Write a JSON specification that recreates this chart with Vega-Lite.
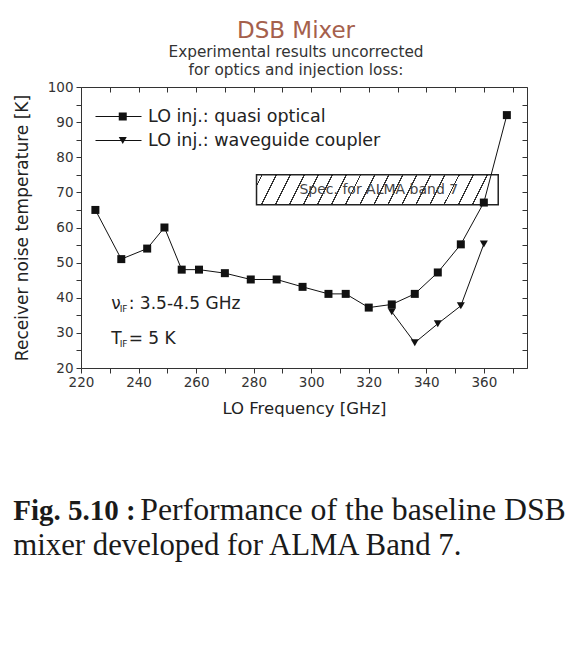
{
  "$schema": "https://vega.github.io/schema/vega-lite/v6.json",
  "background": "white",
  "padding": {"left": 13, "top": 19, "right": 0, "bottom": 10},
  "config": {
    "view": {"stroke": null},
    "font": "DejaVu Sans",
    "axis": {"grid": false, "labelFont": "DejaVu Sans", "titleFont": "DejaVu Sans", "domainColor": "#333", "tickColor": "#333", "labelColor": "#333", "titleColor": "#222", "titleFontWeight": "normal"}
  },
  "datasets": {
    "meas": [
      {"f": 225, "T": 65, "series": "LO inj.: quasi optical"},
      {"f": 234, "T": 51, "series": "LO inj.: quasi optical"},
      {"f": 243, "T": 54, "series": "LO inj.: quasi optical"},
      {"f": 249, "T": 60, "series": "LO inj.: quasi optical"},
      {"f": 255, "T": 48, "series": "LO inj.: quasi optical"},
      {"f": 261, "T": 48, "series": "LO inj.: quasi optical"},
      {"f": 270, "T": 47, "series": "LO inj.: quasi optical"},
      {"f": 279, "T": 45.2, "series": "LO inj.: quasi optical"},
      {"f": 288, "T": 45.2, "series": "LO inj.: quasi optical"},
      {"f": 297, "T": 43.1, "series": "LO inj.: quasi optical"},
      {"f": 306, "T": 41.1, "series": "LO inj.: quasi optical"},
      {"f": 312, "T": 41.1, "series": "LO inj.: quasi optical"},
      {"f": 320, "T": 37.2, "series": "LO inj.: quasi optical"},
      {"f": 328, "T": 38.1, "series": "LO inj.: quasi optical"},
      {"f": 336, "T": 41.1, "series": "LO inj.: quasi optical"},
      {"f": 344, "T": 47.2, "series": "LO inj.: quasi optical"},
      {"f": 352, "T": 55.2, "series": "LO inj.: quasi optical"},
      {"f": 360, "T": 67.1, "series": "LO inj.: quasi optical"},
      {"f": 368, "T": 92, "series": "LO inj.: quasi optical"},
      {"f": 328, "T": 36, "series": "LO inj.: waveguide coupler"},
      {"f": 336, "T": 27.2, "series": "LO inj.: waveguide coupler"},
      {"f": 344, "T": 32.6, "series": "LO inj.: waveguide coupler"},
      {"f": 352, "T": 37.7, "series": "LO inj.: waveguide coupler"},
      {"f": 360, "T": 55.3, "series": "LO inj.: waveguide coupler"}
    ],
    "spec": [{"f1": 281, "f2": 365, "T1": 66.5, "T2": 75, "label": "Spec. for ALMA band 7"}],
    "notes": [
      {"f": 230.5, "T": 38.3, "main": "ν", "sub": "IF", "rest": ": 3.5-4.5 GHz"},
      {"f": 230.5, "T": 28.2, "main": "T", "sub": "IF", "rest": "= 5 K"}
    ]
  },
  "title": {
    "text": "Fig. 5.10 :",
    "subtitle": "mixer developed for ALMA Band 7.",
    "orient": "bottom",
    "anchor": "start",
    "offset": -30,
    "font": "Liberation Serif",
    "fontSize": 29,
    "fontWeight": "bold",
    "color": "#1a1a1a",
    "subtitleFont": "Liberation Serif",
    "subtitleFontSize": 30.8,
    "subtitleColor": "#1a1a1a",
    "subtitlePadding": 5
  },
  "vconcat": [
    {
      "title": {
        "text": "Performance of the baseline DSB",
        "orient": "bottom",
        "anchor": "start",
        "dx": 127,
        "offset": 78,
        "font": "Liberation Serif",
        "fontSize": 31.8,
        "fontWeight": "normal",
        "color": "#1a1a1a"
      },
      "vconcat": [
        {
          "title": {
            "text": "DSB Mixer",
            "subtitle": ["Experimental results uncorrected", "for optics and injection loss:"],
            "anchor": "middle",
            "dx": -8,
            "offset": 2,
            "font": "DejaVu Sans",
            "fontSize": 23,
            "fontWeight": "normal",
            "color": "#a5604c",
            "subtitleFont": "DejaVu Sans",
            "subtitleFontSize": 15.3,
            "subtitleColor": "#333",
            "subtitleLineHeight": 18,
            "subtitlePadding": 2
          },
          "width": 446,
          "height": 281,
          "resolve": {"axis": {"x": "independent", "y": "independent"}},
          "layer": [
            {
              "data": {"name": "spec"},
              "mark": {
                "type": "rect",
                "stroke": "#222",
                "strokeWidth": 1.5,
                "fill": {
                  "gradient": "linear", "x1": 0, "y1": 0, "x2": 1, "y2": 0.062,
                  "stops": [
                    {"offset": 0, "color": "white"},
                    {"offset": 0.02, "color": "white"}, {"offset": 0.02, "color": "#333"}, {"offset": 0.026, "color": "#333"}, {"offset": 0.026, "color": "white"},
                    {"offset": 0.078, "color": "white"}, {"offset": 0.078, "color": "#333"}, {"offset": 0.084, "color": "#333"}, {"offset": 0.084, "color": "white"},
                    {"offset": 0.136, "color": "white"}, {"offset": 0.136, "color": "#333"}, {"offset": 0.142, "color": "#333"}, {"offset": 0.142, "color": "white"},
                    {"offset": 0.194, "color": "white"}, {"offset": 0.194, "color": "#333"}, {"offset": 0.2, "color": "#333"}, {"offset": 0.2, "color": "white"},
                    {"offset": 0.252, "color": "white"}, {"offset": 0.252, "color": "#333"}, {"offset": 0.258, "color": "#333"}, {"offset": 0.258, "color": "white"},
                    {"offset": 0.31, "color": "white"}, {"offset": 0.31, "color": "#333"}, {"offset": 0.316, "color": "#333"}, {"offset": 0.316, "color": "white"},
                    {"offset": 0.368, "color": "white"}, {"offset": 0.368, "color": "#333"}, {"offset": 0.374, "color": "#333"}, {"offset": 0.374, "color": "white"},
                    {"offset": 0.426, "color": "white"}, {"offset": 0.426, "color": "#333"}, {"offset": 0.432, "color": "#333"}, {"offset": 0.432, "color": "white"},
                    {"offset": 0.484, "color": "white"}, {"offset": 0.484, "color": "#333"}, {"offset": 0.49, "color": "#333"}, {"offset": 0.49, "color": "white"},
                    {"offset": 0.542, "color": "white"}, {"offset": 0.542, "color": "#333"}, {"offset": 0.548, "color": "#333"}, {"offset": 0.548, "color": "white"},
                    {"offset": 0.6, "color": "white"}, {"offset": 0.6, "color": "#333"}, {"offset": 0.606, "color": "#333"}, {"offset": 0.606, "color": "white"},
                    {"offset": 0.658, "color": "white"}, {"offset": 0.658, "color": "#333"}, {"offset": 0.664, "color": "#333"}, {"offset": 0.664, "color": "white"},
                    {"offset": 0.716, "color": "white"}, {"offset": 0.716, "color": "#333"}, {"offset": 0.722, "color": "#333"}, {"offset": 0.722, "color": "white"},
                    {"offset": 0.774, "color": "white"}, {"offset": 0.774, "color": "#333"}, {"offset": 0.78, "color": "#333"}, {"offset": 0.78, "color": "white"},
                    {"offset": 0.832, "color": "white"}, {"offset": 0.832, "color": "#333"}, {"offset": 0.838, "color": "#333"}, {"offset": 0.838, "color": "white"},
                    {"offset": 0.89, "color": "white"}, {"offset": 0.89, "color": "#333"}, {"offset": 0.896, "color": "#333"}, {"offset": 0.896, "color": "white"},
                    {"offset": 0.948, "color": "white"}, {"offset": 0.948, "color": "#333"}, {"offset": 0.954, "color": "#333"}, {"offset": 0.954, "color": "white"},
                    {"offset": 1, "color": "white"}
                  ]
                }
              },
              "encoding": {
                "x": {"field": "f1", "type": "quantitative", "scale": {"domain": [220, 375], "nice": false, "zero": false}, "axis": null},
                "x2": {"field": "f2"},
                "y": {"field": "T1", "type": "quantitative", "scale": {"domain": [20, 100], "nice": false, "zero": false}, "axis": null},
                "y2": {"field": "T2"}
              }
            },
            {
              "data": {"name": "spec"},
              "mark": {"type": "text", "font": "DejaVu Sans", "fontSize": 14, "color": "#444", "align": "center", "baseline": "middle"},
              "encoding": {
                "x": {"datum": 323.5, "type": "quantitative", "axis": null},
                "y": {"datum": 70.6, "type": "quantitative", "axis": null},
                "text": {"field": "label"}
              }
            },
            {
              "data": {"name": "meas"},
              "mark": {"type": "line", "strokeWidth": 1},
              "encoding": {
                "x": {
                  "field": "f", "type": "quantitative",
                  "axis": {
                    "orient": "bottom",
                    "values": [220, 230, 240, 250, 260, 270, 280, 290, 300, 310, 320, 330, 340, 350, 360, 370],
                    "labelExpr": "datum.value % 20 === 0 ? datum.label : ''",
                    "tickSize": 5, "labelFontSize": 13.5, "labelPadding": 2, "labelFlush": false,
                    "title": "LO Frequency [GHz]", "titleFontSize": 16.5, "titlePadding": 12
                  }
                },
                "y": {
                  "field": "T", "type": "quantitative",
                  "axis": {
                    "orient": "left",
                    "values": [20, 25, 30, 35, 40, 45, 50, 55, 60, 65, 70, 75, 80, 85, 90, 95, 100],
                    "labelExpr": "datum.value % 10 === 0 ? datum.label : ''",
                    "tickSize": 5, "labelFontSize": 13.5, "labelPadding": 3, "labelFlush": false,
                    "title": "Receiver noise temperature [K]", "titleFontSize": 17, "titlePadding": 16
                  }
                },
                "color": {
                  "field": "series", "type": "nominal",
                  "scale": {"range": ["#111", "#111"]},
                  "legend": {
                    "orient": "none", "legendX": 14, "legendY": 21, "title": null, "padding": 0,
                    "symbolType": "stroke", "symbolSize": 2116, "symbolStrokeWidth": 1, "clipHeight": 17,
                    "labelOffset": 6, "rowPadding": 6, "labelLimit": 400,
                    "labelFont": "DejaVu Sans", "labelFontSize": 17.5, "labelColor": "#222"
                  }
                }
              }
            },
            {
              "data": {"name": "meas"},
              "mark": {"type": "point", "filled": true, "color": "#111", "opacity": 1, "size": 64},
              "encoding": {
                "x": {
                  "field": "f", "type": "quantitative",
                  "axis": {"orient": "top", "values": [220, 230, 240, 250, 260, 270, 280, 290, 300, 310, 320, 330, 340, 350, 360, 370], "labels": false, "tickSize": -5, "title": null}
                },
                "y": {
                  "field": "T", "type": "quantitative",
                  "axis": {"orient": "right", "values": [20, 25, 30, 35, 40, 45, 50, 55, 60, 65, 70, 75, 80, 85, 90, 95, 100], "labels": false, "tickSize": -5, "title": null}
                },
                "shape": {
                  "field": "series", "type": "nominal",
                  "scale": {"domain": ["LO inj.: quasi optical", "LO inj.: waveguide coupler"], "range": ["square", "triangle-down"]},
                  "legend": {
                    "orient": "none", "legendX": 33, "legendY": 21, "title": null, "padding": 0,
                    "symbolSize": 64, "symbolFillColor": "#111", "symbolStrokeColor": "#111", "symbolOpacity": 1, "clipHeight": 17,
                    "labelOffset": 6, "rowPadding": 6, "labelLimit": 400, "labelOpacity": 0,
                    "labelFont": "DejaVu Sans", "labelFontSize": 17.5
                  }
                }
              }
            },
            {
              "data": {"name": "notes"},
              "mark": {"type": "text", "font": "DejaVu Sans", "fontSize": 17, "color": "#222", "align": "left", "baseline": "middle"},
              "encoding": {
                "x": {"field": "f", "type": "quantitative", "axis": null},
                "y": {"field": "T", "type": "quantitative", "axis": null},
                "text": {"field": "main"}
              }
            },
            {
              "data": {"name": "notes"},
              "mark": {"type": "text", "font": "DejaVu Sans", "fontSize": 9, "color": "#222", "align": "left", "baseline": "middle", "dx": 8.5, "dy": 5},
              "encoding": {
                "x": {"field": "f", "type": "quantitative", "axis": null},
                "y": {"field": "T", "type": "quantitative", "axis": null},
                "text": {"field": "sub"}
              }
            },
            {
              "data": {"name": "notes"},
              "mark": {"type": "text", "font": "DejaVu Sans", "fontSize": 17, "color": "#222", "align": "left", "baseline": "middle", "dx": 17.5},
              "encoding": {
                "x": {"field": "f", "type": "quantitative", "axis": null},
                "y": {"field": "T", "type": "quantitative", "axis": null},
                "text": {"field": "rest"}
              }
            }
          ]
        }
      ]
    }
  ]
}
